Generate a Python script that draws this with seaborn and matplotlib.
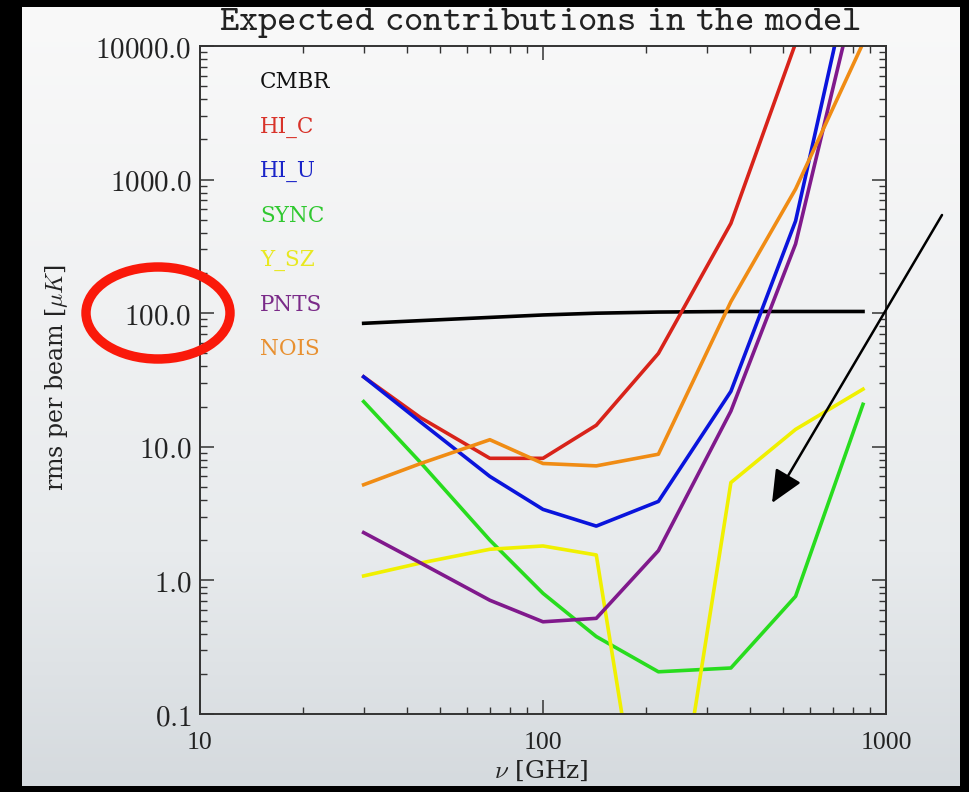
import numpy as np
import pandas as pd
import matplotlib
matplotlib.use("Agg")
import matplotlib.pyplot as plt
import matplotlib.ticker as mticker
from matplotlib.patches import Ellipse
import seaborn as sns

# Frequencies of the model channels (GHz)
freq = [30, 44, 70, 100, 143, 217, 353, 545, 857]

# rms per beam (muK) for each component
cmbr = [84, 88, 93, 97, 100, 102, 103, 103, 103]
hi_c = [33.4, 16.5, 8.2, 8.2, 14.5, 50.0, 470.0, 1.05e4, 3.0e5]
hi_u = [33.4, 15.3, 6.0, 3.4, 2.55, 3.9, 26.0, 490.0, 9.0e4]
sync = [21.8, 7.6, 2.0, 0.80, 0.38, 0.207, 0.221, 0.76, 20.8]
y_sz = [1.08, 1.35, 1.71, 1.81, 1.55, 0.002, 5.4, 13.5, 27.0]
pnts = [2.28, 1.35, 0.71, 0.49, 0.52, 1.67, 18.5, 330.0, 4.2e4]
nois = [5.2, 7.5, 11.3, 7.5, 7.2, 8.8, 122.0, 850.0, 1.05e4]

components = ["CMBR", "HI_C", "HI_U", "SYNC", "Y_SZ", "PNTS", "NOIS"]
series = [cmbr, hi_c, hi_u, sync, y_sz, pnts, nois]
line_colors = ["#000000", "#d8231a", "#0a14dc", "#28dc1e", "#f0f000", "#80198c", "#f08c14"]
text_colors = ["#111111", "#d8332a", "#1a24c8", "#30c830", "#e8e820", "#7a2a88", "#e89030"]

ytick_vals = [0.1, 1, 10, 100, 1000, 10000]
ytick_labels = ["0.1", "1.0", "10.0", "100.0", "1000.0", "10000.0"]
xtick_vals = [10, 100, 1000]
xtick_labels = ["10", "100", "1000"]

df = pd.DataFrame({
    "freq": np.tile(freq, len(components)),
    "rms": np.concatenate([np.asarray(s, float) for s in series]),
    "component": np.repeat(components, len(freq)),
})

plt.rcParams["mathtext.fontset"] = "cm"

W, H = 970, 792
fig = plt.figure(figsize=(W / 100, H / 100), dpi=100, facecolor="black")

# slide background: soft vertical gradient
bx0, bx1, by0, by1 = 22, 960, 7, 786
ax_bg = fig.add_axes([bx0 / W, 1 - by1 / H, (bx1 - bx0) / W, (by1 - by0) / H], zorder=-5)
stops_y = np.array([0.0, 0.35, 0.7, 1.0])
stops_c = np.array([[249, 249, 249], [241, 242, 243], [232, 235, 237], [213, 218, 222]]) / 255.0
yy = np.linspace(0, 1, 400)
grad = np.stack([np.interp(yy, stops_y, stops_c[:, k]) for k in range(3)], axis=-1)[:, None, :]
ax_bg.imshow(grad, aspect="auto", extent=[0, 1, 1, 0])
ax_bg.set_axis_off()

# main axes
left, right, top, bottom = 200, 886, 46, 714
ax = fig.add_axes([left / W, 1 - bottom / H, (right - left) / W, (bottom - top) / H])
ax.patch.set_alpha(0)
ax.set_xscale("log")
ax.set_yscale("log")

sns.lineplot(data=df, x="freq", y="rms", hue="component", hue_order=components,
             palette=dict(zip(components, line_colors)), estimator=None, sort=False,
             linewidth=2.6, legend=False, ax=ax)

ax.set_xlim(10, 1000)
ax.set_ylim(0.1, 10000)
ax.set_xlabel("")
ax.set_ylabel("")

for sp in ax.spines.values():
    sp.set_color("#333333")
    sp.set_linewidth(1.4)

ax.set_xticks(xtick_vals)
ax.set_xticklabels(xtick_labels, fontfamily="Liberation Serif", fontsize=18.5)
ax.set_yticks(ytick_vals)
ax.set_yticklabels([rf"$\mathtt{{{s}}}$" for s in ytick_labels], fontsize=21)
ax.xaxis.set_minor_locator(mticker.LogLocator(base=10, subs=np.arange(2, 10)))
ax.yaxis.set_minor_locator(mticker.LogLocator(base=10, subs=np.arange(2, 10), numticks=20))
ax.xaxis.set_minor_formatter(mticker.NullFormatter())
ax.yaxis.set_minor_formatter(mticker.NullFormatter())
ax.tick_params(which="both", direction="in", top=True, right=True, colors="#333333",
               labelcolor="#222222")
ax.tick_params(which="major", length=10, width=1.1)
ax.tick_params(which="minor", length=5, width=1.0)
ax.tick_params(axis="x", which="major", pad=13)
ax.tick_params(axis="y", which="major", pad=6)

# component labels
for i, (name, col) in enumerate(zip(components, text_colors)):
    fig.text(260 / W, 1 - (82 + 44.5 * i) / H, name, color=col, fontfamily="DejaVu Serif",
             fontsize=15.5, ha="left", va="center")

fig.text(540 / W, 1 - 30 / H, r"$\mathtt{Expected\ contributions\ in\ the\ model}$",
         fontsize=26.5, color="#222222", ha="center", va="baseline")
fig.text(57 / W, 1 - 377 / H, r"rms per beam [$\mu K$]", rotation=90, fontfamily="DejaVu Serif",
         fontsize=17, color="#222222", ha="center", va="center")
fig.text(541 / W, 1 - 771 / H, r"$\nu$ [GHz]", fontfamily="DejaVu Serif",
         fontsize=18, color="#222222", ha="center", va="center")

# highlight ring around the 100 label
ring = Ellipse((158 / W, 1 - 313 / H), 144 / W, 92 / H, transform=fig.transFigure,
               fill=False, edgecolor="#fa190a", linewidth=6.8, zorder=20)
fig.add_artist(ring)

# pointer arrow
ax.annotate("", xy=(772, H - 503), xytext=(942, H - 215), xycoords="figure pixels",
            textcoords="figure pixels", annotation_clip=False,
            arrowprops=dict(arrowstyle="-|>,head_length=1.0,head_width=0.45", mutation_scale=20,
                            color="black", lw=1.8, shrinkA=0, shrinkB=0), zorder=20)

fig.savefig("out.png", dpi=100, facecolor="black")
